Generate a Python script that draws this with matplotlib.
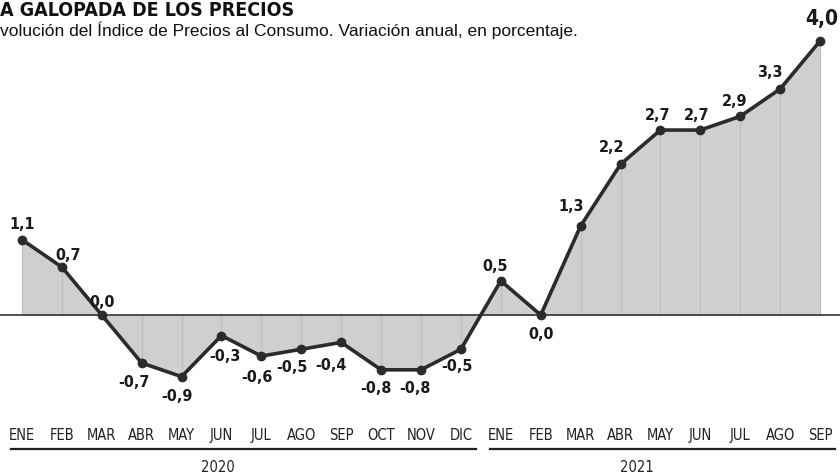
import numpy as np
import matplotlib.pyplot as plt
import matplotlib.transforms as mtransforms

# ── data ────────────────────────────────────────────────────────────────
months = ["ENE", "FEB", "MAR", "ABR", "MAY", "JUN", "JUL", "AGO", "SEP", "OCT", "NOV", "DIC",
          "ENE", "FEB", "MAR", "ABR", "MAY", "JUN", "JUL", "AGO", "SEP"]
ipc = [1.1, 0.7, 0.0, -0.7, -0.9, -0.3, -0.6, -0.5, -0.4, -0.8, -0.8, -0.5,
       0.5, 0.0, 1.3, 2.2, 2.7, 2.7, 2.9, 3.3, 4.0]
years = ["2020", "2021"]
year_spans = [(0, 11), (12, 20)]

# label offsets in pixels (dx, dy) relative to each point
label_offsets = [(0, 16), (6, 13), (0, 14), (-8, -19), (-5, -19), (3, -20), (-4, -20),
                 (-9, -17), (-10, -22), (-5, -18), (-6, -18), (-4, -16),
                 (-6, 15), (0, -18), (-9, 20), (-9, 18), (-3, 16), (-4, 16), (-6, 16),
                 (-10, 17), (2, 23)]

NARROW = dict(family="DejaVu Sans", fontstretch="condensed")

x = np.arange(len(ipc))
y = np.array(ipc)

fig = plt.figure(figsize=(8.4, 4.77), dpi=100)
ax = fig.add_axes([0, 77 / 477, 1, 370 / 477])
ax.set_xlim(-0.55, 20.5)
ax.set_ylim(-1.226, 4.175)

# ── fill + faint month verticals ────────────────────────────────────────
ax.fill_between(x, y, 0, color="#cfcfcf", lw=0, zorder=1)
for xi, yi in zip(x, y):
    ax.plot([xi, xi], [0, yi], color="#bdbdbd", lw=0.8, zorder=1.5)
ax.axhline(0, color="#333333", lw=1.2, zorder=2)

# ── line + markers ──────────────────────────────────────────────────────
ax.plot(x, y, color="#2b2b2b", lw=2.6, marker="o", ms=6, mfc="#2b2b2b", mec="#2b2b2b",
        zorder=3, solid_joinstyle="round")

for i, (xi, yi) in enumerate(zip(x, y)):
    lab = f"{yi:.1f}".replace(".", ",")
    big = i == len(y) - 1
    ax.annotate(lab, (xi, yi), xytext=label_offsets[i], textcoords="offset pixels",
                ha="center", va="center", fontsize=15 if big else 11.5,
                fontweight="bold", color="#1a1a1a", zorder=4, **NARROW)

# ── month ticks and year bands ──────────────────────────────────────────
ax.set_xticks(x)
ax.set_xticklabels(months, fontsize=10.5, color="#222222", **NARROW)
ax.tick_params(axis="x", length=0, pad=20)
ax.set_yticks([])
for s in ax.spines.values():
    s.set_visible(False)

trans = mtransforms.blended_transform_factory(ax.transData, fig.transFigure)
for yr, (a, b) in zip(years, year_spans):
    ax.plot([a - 0.27, b + 0.38], [27 / 477, 27 / 477], color="#222222", lw=1.6,
            transform=trans, clip_on=False)
    ax.text((a + b) / 2 - 0.6, 9 / 477, yr, transform=trans, ha="center", va="center",
            fontsize=10.5, color="#222222", **NARROW)

# ── title / subtitle ────────────────────────────────────────────────────
fig.text(0.0, 1.0 - 1 / 477, "A GALOPADA DE LOS PRECIOS", ha="left", va="top",
         fontsize=14, fontweight="bold", color="#111111", **NARROW)
fig.text(0.0, 1.0 - 30 / 477, "volución del Índice de Precios al Consumo. Variación anual, en porcentaje.",
         ha="left", va="center", family=["Liberation Sans", "DejaVu Sans"], fontsize=12.5,
         color="#111111")

fig.savefig("out.png", dpi=100)
